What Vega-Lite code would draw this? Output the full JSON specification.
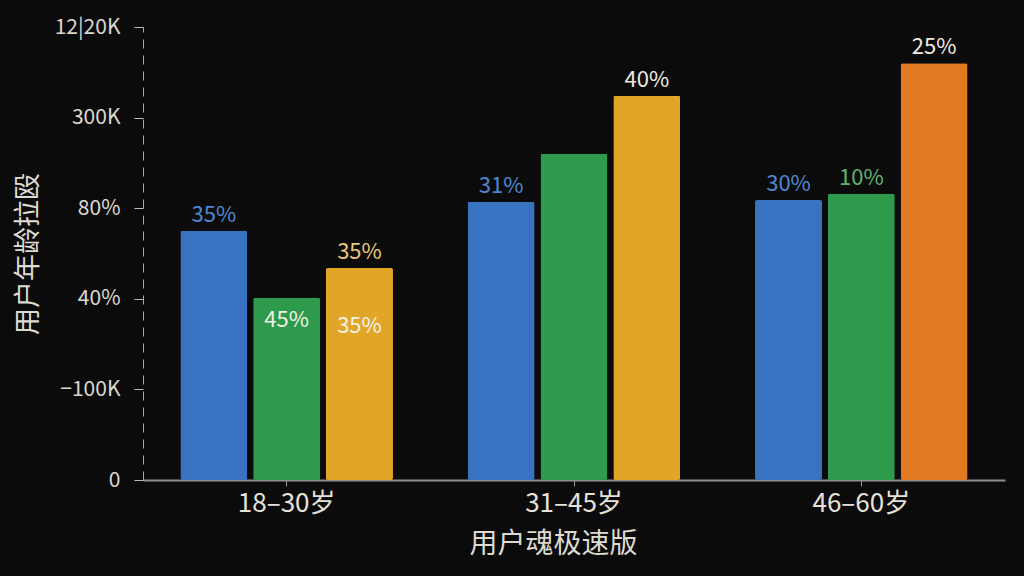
{
  "$schema": "https://vega.github.io/schema/vega-lite/v6.json",
  "width": 862,
  "height": 453,
  "autosize": {"type": "none"},
  "padding": {"left": 143, "top": 27, "right": 19, "bottom": 96},
  "background": "#0b0b0b",
  "config": {
    "view": {"stroke": null},
    "font": "Noto Sans CJK SC"
  },
  "data": {
    "values": [
      {"group": "18–30岁", "pos": 1, "series": "蓝", "value": 2.75, "top": "35%", "inner": ""},
      {"group": "18–30岁", "pos": 2, "series": "绿", "value": 2.01, "top": "", "inner": "45%"},
      {"group": "18–30岁", "pos": 3, "series": "黄", "value": 2.34, "top": "35%", "inner": "35%"},
      {"group": "31–45岁", "pos": 1, "series": "蓝", "value": 3.07, "top": "31%", "inner": ""},
      {"group": "31–45岁", "pos": 2, "series": "绿", "value": 3.60, "top": "", "inner": ""},
      {"group": "31–45岁", "pos": 3, "series": "黄", "value": 4.24, "top": "40%", "inner": ""},
      {"group": "46–60岁", "pos": 1, "series": "蓝", "value": 3.09, "top": "30%", "inner": ""},
      {"group": "46–60岁", "pos": 2, "series": "绿", "value": 3.16, "top": "10%", "inner": ""},
      {"group": "46–60岁", "pos": 3, "series": "橙", "value": 4.60, "top": "25%", "inner": ""}
    ]
  },
  "encoding": {
    "x": {
      "field": "group",
      "type": "nominal",
      "sort": null,
      "scale": {"paddingInner": 0.26, "paddingOuter": 0.13},
      "axis": {
        "title": "用户魂极速版",
        "labelAngle": 0,
        "labelFontSize": 26,
        "labelColor": "#e6e2da",
        "labelPadding": 4,
        "tickSize": 6,
        "tickColor": "#999999",
        "domainColor": "#8f8f8f",
        "domainWidth": 2,
        "titleFontSize": 28,
        "titleFontWeight": "normal",
        "titleColor": "#dedad2",
        "titlePadding": 14,
        "titleX": 410,
        "grid": false
      }
    },
    "xOffset": {
      "field": "pos",
      "type": "ordinal",
      "scale": {"paddingInner": 0.08, "paddingOuter": 0}
    },
    "y": {
      "field": "value",
      "type": "quantitative",
      "scale": {"domain": [0, 5], "nice": false},
      "axis": {
        "title": "用户年龄拉殴",
        "values": [0, 1, 2, 3, 4, 5],
        "labelExpr": "datum.value == 0 ? '0' : datum.value == 1 ? '−100K' : datum.value == 2 ? '40%' : datum.value == 3 ? '80%' : datum.value == 4 ? '300K' : '12|20K'",
        "labelFontSize": 21,
        "labelColor": "#dcd8d0",
        "labelPadding": 14,
        "tickSize": 9,
        "tickColor": "#bbbbbb",
        "domainColor": "#aaaaaa",
        "domainDash": [9, 7],
        "titleFontSize": 27,
        "titleFontWeight": "normal",
        "titleColor": "#dedad2",
        "titlePadding": 12,
        "grid": false
      }
    }
  },
  "layer": [
    {
      "mark": {"type": "bar", "cornerRadius": 2},
      "encoding": {
        "color": {
          "field": "series",
          "type": "nominal",
          "scale": {"domain": ["蓝", "绿", "黄", "橙"], "range": ["#3a72c2", "#2e9a4b", "#e1a628", "#e17a22"]},
          "legend": null
        }
      }
    },
    {
      "mark": {"type": "text", "baseline": "bottom", "dy": -4, "fontSize": 22},
      "encoding": {
        "text": {"field": "top"},
        "color": {
          "condition": [
            {"test": "datum.series == '蓝'", "value": "#4f87d2"},
            {"test": "datum.series == '绿'", "value": "#5db56a"},
            {"test": "datum.group == '18–30岁'", "value": "#e8c779"}
          ],
          "value": "#f0ebe2"
        }
      }
    },
    {
      "transform": [{"filter": "datum.series == '绿'"}],
      "mark": {"type": "text", "baseline": "middle", "dy": 22, "fontSize": 22, "color": "#f2efe8"},
      "encoding": {"text": {"field": "inner"}}
    },
    {
      "transform": [{"filter": "datum.series == '黄'"}],
      "mark": {"type": "text", "baseline": "middle", "dy": 58, "fontSize": 22, "color": "#f4f1ea"},
      "encoding": {"text": {"field": "inner"}}
    }
  ]
}
